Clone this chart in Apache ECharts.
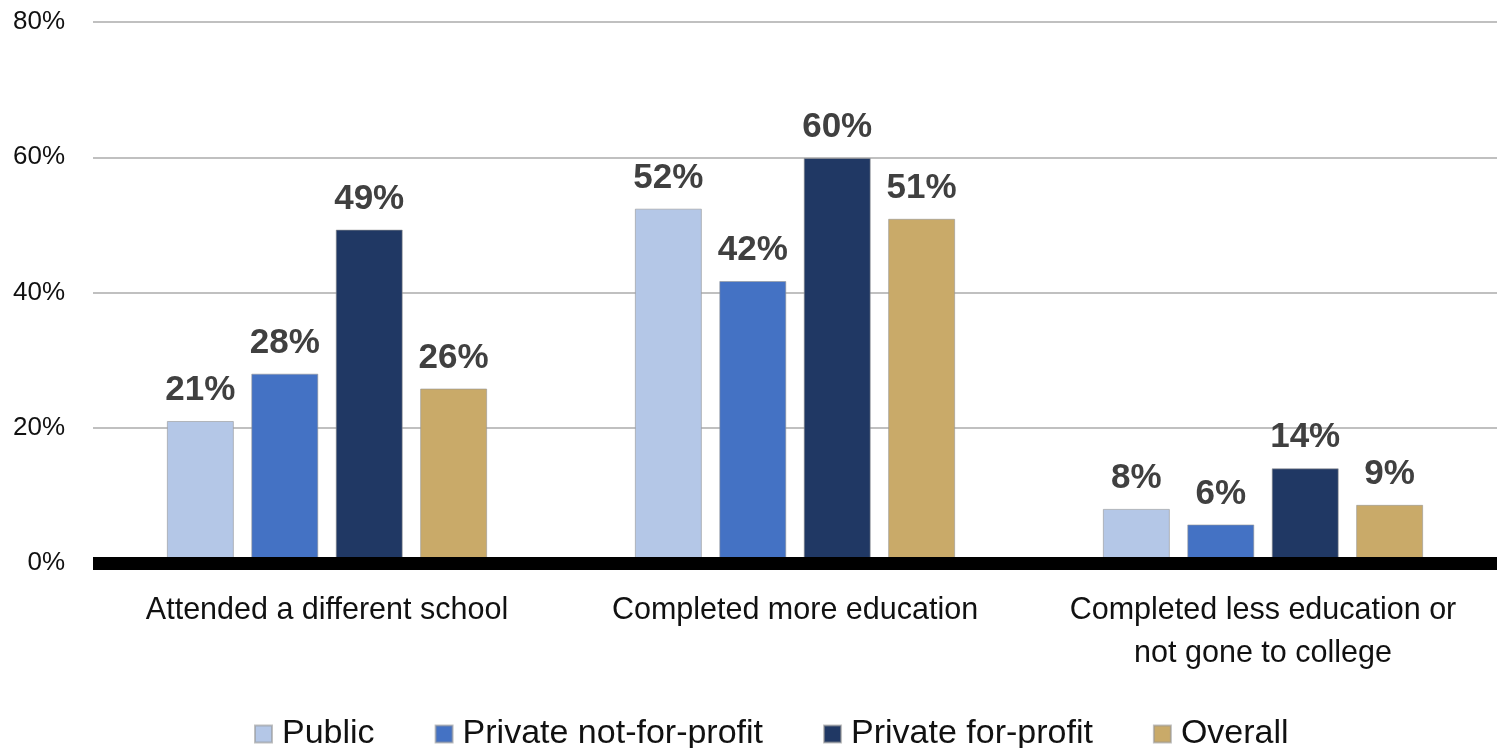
<!DOCTYPE html>
<html>
<head>
<meta charset="utf-8">
<script src="https://cdn.jsdelivr.net/npm/echarts@6/dist/echarts.min.js"></script>
<style>
html, body {margin: 0; padding: 0; background: #fff;}
#chart {width: 1497px; height: 748px;}
</style>
</head>
<body>
<div id="chart"></div>
<script>
var categories = ["Attended a different school", "Completed more education", "Completed less education or\nnot gone to college"];
var seriesNames = ["Public", "Private not-for-profit", "Private for-profit", "Overall"];
var publicVals = [21, 52.4, 8.0];
var privateNfpVals = [28, 41.7, 5.7];
var privateFpVals = [49.3, 59.9, 14.0];
var overallVals = [25.8, 50.9, 8.6];
var yTicks = [0, 20, 40, 60, 80];

var colors = ["#b4c7e7", "#4472c4", "#203864", "#c9aa69"];
var fontFamily = 'Arial, "Liberation Sans", sans-serif';

var myChart = echarts.init(document.getElementById("chart"));

function makeSeries(name, data, color) {
	return {
		name: name,
		type: "bar",
		data: data,
		barWidth: 67,
		barGap: "26%",
		itemStyle: {color: color, borderColor: "rgba(150,150,150,0.6)", borderWidth: 1},
		label: {
			show: true,
			position: "top",
			distance: 13,
			fontFamily: fontFamily,
			fontSize: 35,
			fontWeight: "bold",
			color: "#404040",
			formatter: function (p) { return Math.round(p.value) + "%"; }
		}
	};
}

var option = {
	backgroundColor: "#ffffff",
	textStyle: {fontFamily: fontFamily},
	grid: {left: 93, right: 0, top: 22, bottom: 185},
	legend: {
		data: seriesNames,
		left: 249,
		top: 712,
		itemWidth: 17,
		itemHeight: 17,
		itemGap: 60,
		icon: "rect",
		textStyle: {fontFamily: fontFamily, fontSize: 34, color: "#111", padding: [0, 0, 0, 5]}
	},
	xAxis: {
		type: "category",
		data: categories,
		z: 5,
		axisLine: {lineStyle: {color: "#000", width: 13, cap: "butt"}},
		axisTick: {show: false},
		axisLabel: {fontFamily: fontFamily, fontSize: 30.5, color: "#111", margin: 26, lineHeight: 43, interval: 0}
	},
	yAxis: {
		type: "value",
		min: yTicks[0],
		max: yTicks[yTicks.length - 1],
		interval: 20,
		axisLine: {show: false},
		axisTick: {show: false},
		splitLine: {lineStyle: {color: "#c0c0c0", width: 2}},
		axisLabel: {fontFamily: fontFamily, fontSize: 26, color: "#111", margin: 28, formatter: "{value}%"}
	},
	series: [
		makeSeries(seriesNames[0], publicVals, colors[0]),
		makeSeries(seriesNames[1], privateNfpVals, colors[1]),
		makeSeries(seriesNames[2], privateFpVals, colors[2]),
		makeSeries(seriesNames[3], overallVals, colors[3])
	]
};
myChart.setOption(option);
</script>
</body>
</html>
